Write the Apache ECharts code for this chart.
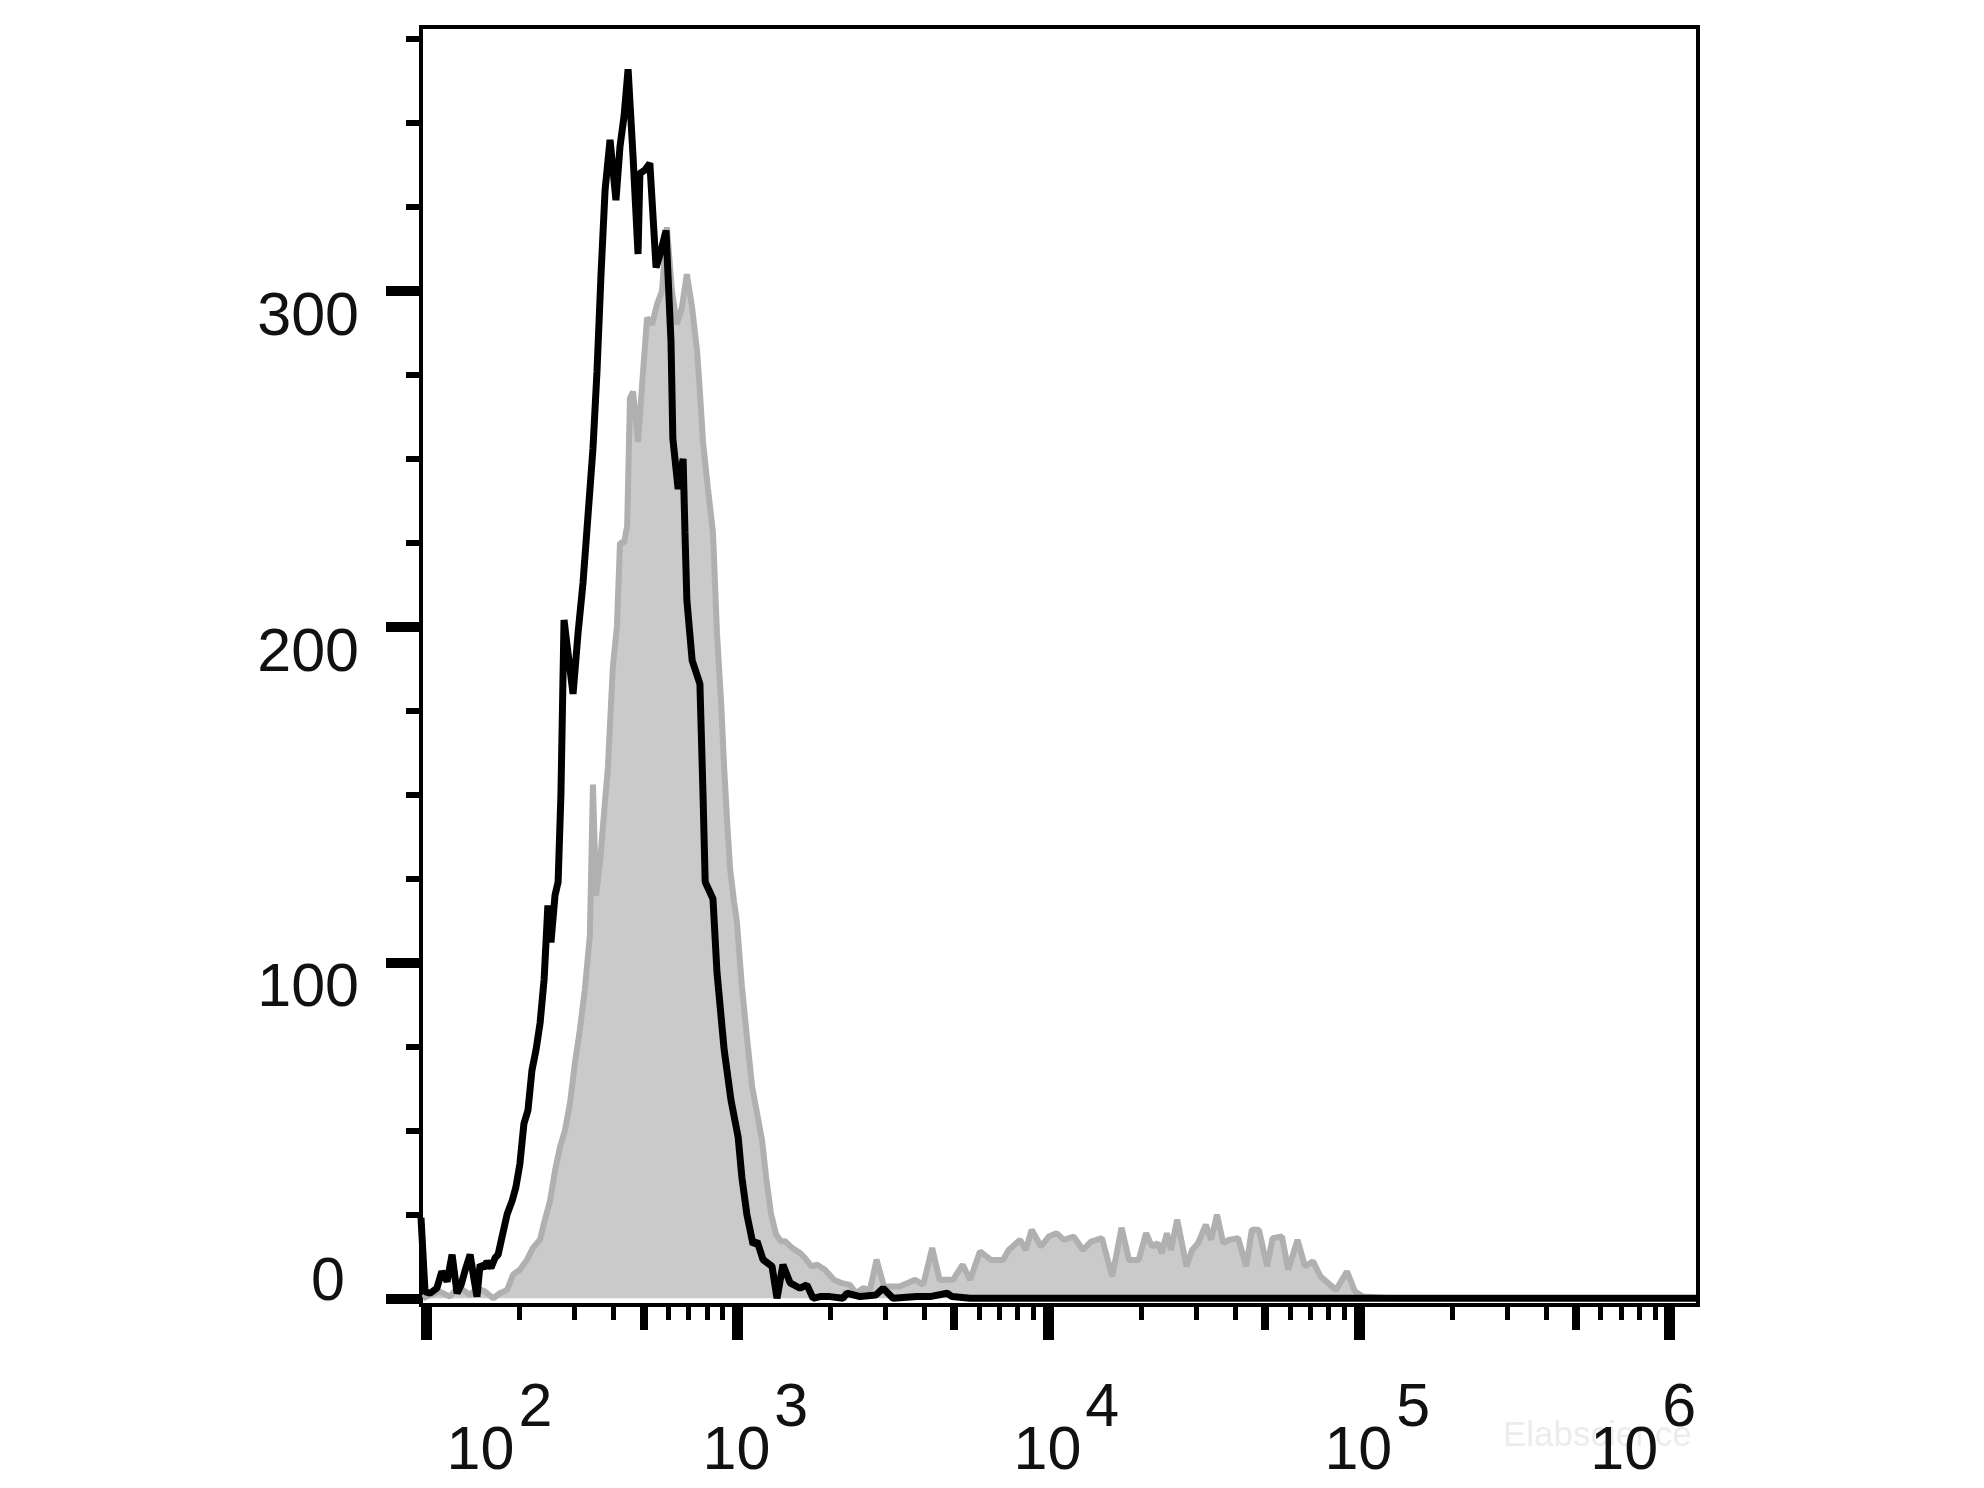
<!DOCTYPE html>
<html>
<head>
<meta charset="utf-8">
<script src="https://cdn.jsdelivr.net/npm/echarts@6/dist/echarts.min.js"></script>
<style>html,body{margin:0;padding:0;background:#fff}#c{width:1984px;height:1488px}</style>
</head>
<body>
<div id="c"></div>
<script>
// x values are log10 of fluorescence intensity; y values are cell counts
const blackLog = [1.984,1.997,2.013,2.035,2.051,2.068,2.084,2.100,2.113,2.125,2.142,2.154,2.164,2.174,2.187,2.196,2.209,2.222,2.232,2.244,2.261,2.277,2.289,2.302,2.315,2.328,2.341,2.354,2.367,2.380,2.392,2.402,2.415,2.425,2.434,2.444,2.457,2.473,2.489,2.505,2.521,2.537,2.550,2.563,2.576,2.592,2.611,2.624,2.637,2.650,2.666,2.682,2.688,2.704,2.720,2.740,2.756,2.772,2.788,2.794,2.811,2.827,2.833,2.839,2.856,2.881,2.891,2.898,2.923,2.936,2.959,2.981,3.004,3.016,3.032,3.052,3.065,3.084,3.113,3.129,3.148,3.171,3.203,3.225,3.245,3.267,3.299,3.341,3.354,3.396,3.447,3.470,3.502,3.579,3.621,3.676,3.692,3.750,3.900,4.200,4.500,4.800,5.100,5.400,5.700,6.000,6.091];
const blackCount = [24,2,1.5,3,8,5,13,1.5,4,8,13,6,0.5,10,9,11,9,12,13,18,25,29,33,40,52,56,68,74,82,95,117,106,120,124,150,202,192,180,198,213,233,253,276,305,330,345,327,343,352,366,340,311,335,336,338,307,312,318,285,256,241,250,228,208,190,183,150,124,119,97,74,59,48,36,25,16,17,11.5,9.5,0,10,4.6,3,4,0,0.5,0.5,0,1.5,0.5,1,3,0,0.5,0.5,1.5,0.5,0,0,0,0,0,0,0,0,0,0];

const grayLog = [1.990,2.013,2.045,2.077,2.100,2.119,2.142,2.164,2.190,2.216,2.238,2.261,2.280,2.302,2.325,2.344,2.367,2.380,2.399,2.415,2.431,2.447,2.463,2.479,2.495,2.511,2.527,2.537,2.547,2.560,2.573,2.585,2.601,2.614,2.624,2.637,2.647,2.656,2.666,2.682,2.695,2.711,2.727,2.743,2.759,2.775,2.791,2.807,2.823,2.839,2.856,2.872,2.881,2.891,2.907,2.923,2.936,2.949,2.959,2.968,2.978,2.991,3.000,3.016,3.032,3.049,3.065,3.081,3.094,3.110,3.126,3.142,3.155,3.177,3.203,3.219,3.240,3.258,3.283,3.312,3.338,3.363,3.383,3.406,3.428,3.449,3.473,3.523,3.573,3.599,3.628,3.652,3.695,3.726,3.750,3.782,3.817,3.856,3.874,3.911,3.929,3.948,3.978,4.003,4.028,4.052,4.083,4.113,4.139,4.174,4.207,4.237,4.261,4.292,4.316,4.335,4.354,4.366,4.383,4.396,4.416,4.446,4.464,4.483,4.508,4.525,4.544,4.564,4.582,4.612,4.638,4.656,4.679,4.705,4.723,4.753,4.773,4.803,4.827,4.853,4.877,4.908,4.927,4.962,4.988,5.013,5.100,5.500,6.000,6.091];
const grayCount = [0,1,2,0.5,3,2.5,1,3,2,0,1.5,2.5,7,8.5,11.5,15,17.5,22.5,29,38,45,50,58,70,80,92,108,153,120,130,145,158,188,200,225,225,230,268,270,255,272,292,290,296,300,319,300,290,295,305,295,282,270,255,241,228,198,178,158,143,128,118,112,93,78,63,55,47,36,25,19,17,17,15,13.5,12,9.5,10,8.5,5.5,4.5,4,1.6,3,2.5,11.5,3.5,3.5,5.5,4,15,5.5,5.5,10,5.5,14,11.4,11.4,14.4,17.4,14.4,20.4,15.4,18.4,19.4,17.4,18.4,14.4,16.9,17.9,6.5,21,11.4,11.4,19.4,15.4,16.4,13.4,19.4,14.4,23.4,9.5,14.4,16.4,21.9,17.4,24.9,16.4,17.4,17.9,9.5,20.4,20.4,9.5,17.9,18.4,8.5,17.4,9.5,11,6.5,4,2.5,8,2,0.5,0,0,0,0];

// tick labels
const yLabelValues = [0, 100, 200, 300];
const yMinorTicks = [25, 50, 75, 125, 150, 175, 225, 250, 275, 325, 350, 375];
const xDecades = [2, 3, 4, 5, 6];          // 10^2 ... 10^6
const xMediumMultipliers = [5];
const xMinorMultipliers = [2, 3, 4, 6, 7, 8, 9];
const watermarkText = 'Elabscience';

const X_MIN = 1.984, X_MAX = 6.091, Y_MIN = -2, Y_MAX = 378.6;
const FONT = '"Liberation Sans", Arial, Helvetica, sans-serif';
const TXT = '#111111';

const mediumTicks = [], minorTicks = [];
for (let d = 2; d < 6; d++) {
  xMediumMultipliers.forEach(m => mediumTicks.push(d + Math.log10(m)));
  xMinorMultipliers.forEach(m => minorTicks.push(d + Math.log10(m)));
}

const grayData = grayLog.map((x, i) => [x, grayCount[i]]);
const blackData = blackLog.map((x, i) => [x, blackCount[i]]);

const tok = (pad) => ({fontSize: 61, lineHeight: 60, fontFamily: FONT, color: TXT, padding: pad});

const baseX = {
  type: 'value', min: X_MIN, max: X_MAX, gridIndex: 0, position: 'bottom', offset: 0,
  splitLine: {show: false}, axisLine: {show: false, onZero: false}, axisLabel: {show: false}
};
const baseY = {
  type: 'value', min: Y_MIN, max: Y_MAX, gridIndex: 0, position: 'left', offset: 0,
  splitLine: {show: false}, axisLine: {show: false, onZero: false}, axisLabel: {show: false}
};

const chart = echarts.init(document.getElementById('c'), null, {renderer: 'canvas'});
chart.setOption({
  animation: false,
  backgroundColor: '#ffffff',
  grid: {left: 421, top: 27, width: 1277, height: 1278, show: true,
         borderColor: '#000', borderWidth: 4, backgroundColor: 'transparent',
         outerBoundsMode: 'none', containLabel: false},
  xAxis: [
    Object.assign({}, baseX, {
      axisLine: {show: true, onZero: false, lineStyle: {color: '#000', width: 3}},
      axisTick: {show: true, customValues: xDecades, length: 35, lineStyle: {color: '#000', width: 11}},
      axisLabel: {
        show: true, customValues: xDecades, margin: 96,
        formatter: v => {
          const k = Math.round(v);
          const b = k === 2 ? 'bL' : 'b';
          const e = k === 6 ? 'eR' : 'e';
          return '{' + b + '|10}{' + e + '|' + k + '}';
        },
        rich: {
          b: tok([43, 0, 0, 37]),
          bL: tok([43, 0, 0, 147]),
          e: tok([0, 0, 43, 4]),
          eR: tok([0, 90, 43, 4])
        }
      }
    }),
    Object.assign({}, baseX, {
      axisTick: {show: true, customValues: mediumTicks, length: 25, lineStyle: {color: '#000', width: 8}}
    }),
    Object.assign({}, baseX, {
      axisTick: {show: true, customValues: minorTicks, length: 15, lineStyle: {color: '#000', width: 5}}
    })
  ],
  yAxis: [
    Object.assign({}, baseY, {
      axisLine: {show: true, onZero: false, lineStyle: {color: '#000', width: 4}},
      axisTick: {show: true, customValues: yLabelValues, length: 35, lineStyle: {color: '#000', width: 10}},
      axisLabel: {
        show: true, customValues: yLabelValues, margin: 62,
        formatter: v => (v === 0 ? '{z|0}' : '{n|' + v + '}'),
        rich: {
          n: tok([54, 0, 0, 0]),
          z: tok([0, 14, 30, 0])
        }
      }
    }),
    Object.assign({}, baseY, {
      axisTick: {show: true, customValues: yMinorTicks, length: 15, lineStyle: {color: '#000', width: 6}}
    })
  ],
  graphic: [{
    type: 'text', left: 1503, top: 1419, z: -10,
    style: {text: watermarkText, fontSize: 35, fontFamily: FONT, fill: '#ececec'}
  }],
  series: [
    {
      type: 'line', name: 'control', data: grayData, xAxisIndex: 0, yAxisIndex: 0,
      showSymbol: false, symbol: 'none', smooth: false, z: 2,
      lineStyle: {color: '#b0b0b0', width: 6},
      areaStyle: {color: '#cacaca', opacity: 1, origin: 'auto'}
    },
    {
      type: 'line', name: 'sample', data: blackData, xAxisIndex: 0, yAxisIndex: 0,
      showSymbol: false, symbol: 'none', smooth: false, z: 3,
      lineStyle: {color: '#000000', width: 7}
    }
  ]
});
</script>
</body>
</html>
